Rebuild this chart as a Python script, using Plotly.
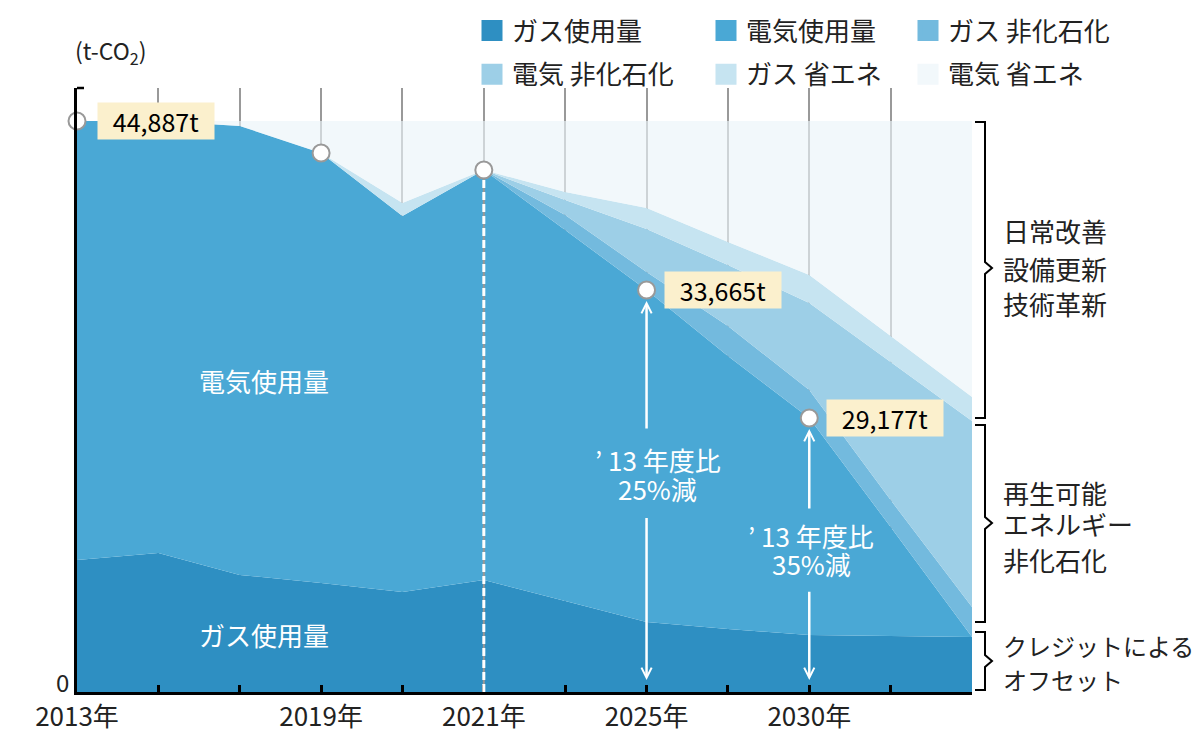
import plotly.graph_objects as go

# category slots on the x axis, only some of them are labelled
xIndex = list(range(12))
tickText = ["2013年", "", "", "2019年", "", "2021年", "", "2025年", "", "2030年", "", ""]

# layer thickness (t-CO2)
gasUse = [10380, 10930, 9200, 8570, 7860, 8800, 7150, 5500, 4950, 4480, 4400, 4320]
elecUse = [34510, 33960, 35300, 33800, 29560, 32230, 29160, 26100, 21460, 17060, 8570, 0]
gasNonFossil = [0, 0, 0, 0, 0, 0, 1180, 1420, 2360, 2200, 2120, 2360]
elecNonFossil = [0, 0, 0, 0, 0, 0, 1180, 3380, 4800, 6840, 10850, 14620]
gasSaving = [0, 0, 0, 0, 1020, 0, 630, 1650, 1810, 2200, 2040, 1890]
elecSaving = [0, 0, 390, 2520, 6450, 3850, 5580, 6840, 9510, 12110, 16900, 21700]

layerNames = ["ガス使用量", "電気使用量", "ガス 非化石化", "電気 非化石化", "ガス 省エネ", "電気 省エネ"]
layerValues = [gasUse, elecUse, gasNonFossil, elecNonFossil, gasSaving, elecSaving]
fillColors = ["#2e8fc2", "#4aa8d5", "#73bade", "#9dcfe7", "#c6e4f1", "rgba(235,244,249,0.64)"]
swatchColors = ["#2e8fc2", "#4aa8d5", "#73bade", "#9dcfe7", "#c6e4f1", "#f2f8fb"]

# circles on the usage line and their callouts
markIdx = [0, 3, 5, 7, 9]
calloutIdx = [0, 7, 9]
calloutText = ["44,887t", "33,665t", "29,177t"]

FONT = "Noto Sans CJK JP"
W, H = 1200, 738
L, R, T, B = 77, 228, 88, 46
plotW = W - L - R
plotH = H - T - B
yMax = 47480

def px(x):
    return (x - L) / plotW

def py(y):
    return (H - B - y) / plotH

fig = go.Figure()

for name, vals, col in zip(layerNames, layerValues, fillColors):
    fig.add_trace(go.Scatter(x=xIndex, y=vals, stackgroup="one", mode="lines",
                             line=dict(width=0), fillcolor=col, name=name,
                             showlegend=False, hoverinfo="skip"))

markY = [gasUse[i] + elecUse[i] for i in markIdx]
fig.add_trace(go.Scatter(x=markIdx, y=markY, mode="markers", cliponaxis=False,
                         marker=dict(size=17, color="white", line=dict(color="#999", width=2)),
                         showlegend=False, hoverinfo="skip"))

# legend: three columns of two
legendKeys = ["legend", "legend2", "legend3"]
for i, (name, col) in enumerate(zip(layerNames, swatchColors)):
    fig.add_trace(go.Scatter(x=[None], y=[None], mode="markers", name=name,
                             marker=dict(symbol="square", size=16, color=col, line=dict(color=col, width=5)),
                             legend=legendKeys[i % 3], legendgroup=name, hoverinfo="skip"))

legendX = [472, 706, 908]
legendStyle = dict(y=1 - 7 / H, xref="container", yref="container", xanchor="left", yanchor="top",
                   traceorder="grouped", tracegroupgap=7, bgcolor="rgba(0,0,0,0)",
                   font=dict(family=FONT, size=26, color="#222"), itemclick=False)
fig.update_layout(legend=dict(x=legendX[0] / W, **legendStyle),
                  legend2=dict(x=legendX[1] / W, **legendStyle),
                  legend3=dict(x=legendX[2] / W, **legendStyle))

shapes = []
# 2021 marker line: grey with white dashes
shapes.append(dict(type="line", xref="x", yref="y", x0=5, x1=5, y0=0, y1=markY[2] - 600,
                   line=dict(color="#999", width=2), layer="above"))
shapes.append(dict(type="line", xref="x", yref="y", x0=5, x1=5, y0=0, y1=markY[2] - 600,
                   line=dict(color="white", width=3, dash="8px,4px"), layer="above"))
# cap on top of the y axis
shapes.append(dict(type="line", xref="paper", yref="paper", x0=0, x1=px(84), y0=1, y1=1,
                   line=dict(color="black", width=2.5)))

# right-hand braces (pixel positions)
braces = [(122, 418, 268), (425, 622, 523), (632, 690, 661)]
for top, bot, mid in braces:
    path = (f"M{px(975)},{py(top)} L{px(985)},{py(top)} L{px(985)},{py(mid - 6)} "
            f"L{px(992)},{py(mid)} L{px(985)},{py(mid + 6)} L{px(985)},{py(bot)} L{px(975)},{py(bot)}")
    shapes.append(dict(type="path", xref="paper", yref="paper", path=path,
                       line=dict(color="black", width=2)))

annotations = []
for i, txt in zip(calloutIdx, calloutText):
    yv = gasUse[i] + elecUse[i]
    annotations.append(dict(x=i, y=yv, xref="x", yref="y", text=txt, showarrow=False,
                            xanchor="left", yanchor="middle", xshift=17 if i else 20,
                            bgcolor="#fbf0cd", width=116, borderpad=0,
                            font=dict(family=FONT, size=25, color="black")))

# white labels inside the areas
annotations.append(dict(x=2.3, y=24500, text="電気使用量", showarrow=False,
                        font=dict(family=FONT, size=26, color="white")))
annotations.append(dict(x=2.3, y=4500, text="ガス使用量", showarrow=False,
                        font=dict(family=FONT, size=26, color="white")))

# reduction notes and arrows
notes = [(7, 11, "’ 13 年度比", 18240), (7, 11, "25%減", 15960),
         (9, 2, "’ 13 年度比", 12340), (9, 2, "35%減", 10140)]
for xi, sh, txt, yv in notes:
    annotations.append(dict(x=xi, y=yv, text=txt, showarrow=False, xshift=sh,
                            font=dict(family=FONT, size=26, color="white")))

arrowSpecs = [(7, markY[3], 20600, 11), (7, 0, 13800, 12), (9, markY[4], 14300, 11), (9, 0, 8000, 12)]
for xi, head, tail, so in arrowSpecs:
    annotations.append(dict(x=xi, y=head, ax=xi, ay=tail, xref="x", yref="y", axref="x", ayref="y",
                            text="", showarrow=True, arrowhead=5, arrowsize=0.8, arrowwidth=2.5,
                            arrowcolor="white", standoff=so))

# right side notes
sideNotes = [("日常改善", 230, 26), ("設備更新", 268, 26), ("技術革新", 303, 26),
             ("再生可能", 492, 26), ("エネルギー", 523, 26), ("非化石化", 559, 26),
             ("クレジットによる", 645, 24), ("オフセット", 679, 24)]
for txt, ypx, size in sideNotes:
    annotations.append(dict(x=px(1001), y=py(ypx), xref="paper", yref="paper", text=txt,
                            showarrow=False, xanchor="left", yanchor="middle",
                            font=dict(family=FONT, size=size, color="#222")))

annotations.append(dict(x=px(73), y=py(52), xref="paper", yref="paper", text="(t-CO<sub>2</sub>)",
                        showarrow=False, xanchor="left", yanchor="middle",
                        font=dict(family=FONT, size=23, color="#222")))
annotations.append(dict(x=px(71), y=py(681), xref="paper", yref="paper", text="0",
                        showarrow=False, xanchor="right", yanchor="middle",
                        font=dict(family=FONT, size=24, color="#222")))

fig.update_layout(
    width=W, height=H,
    margin=dict(l=L, r=R, t=T, b=B, autoexpand=False),
    plot_bgcolor="white", paper_bgcolor="white",
    font=dict(family=FONT, size=25, color="#222"),
    shapes=shapes, annotations=annotations,
    xaxis=dict(range=[0, 11], tickvals=xIndex, ticktext=tickText, showgrid=True,
               gridcolor="#999", gridwidth=1.5, showline=True, linecolor="black", linewidth=2.5,
               ticks="inside", ticklen=7, tickwidth=2.5, tickcolor="black",
               tickfont=dict(family=FONT, size=26, color="#222"), zeroline=False, fixedrange=True),
    yaxis=dict(range=[0, yMax], showgrid=False, showticklabels=False, zeroline=False,
               showline=True, linecolor="black", linewidth=2.5, ticks="", fixedrange=True),
    hovermode=False,
)

fig.write_html("out.html", config={"displayModeBar": False},
               post_script="document.body.style.margin='0';")
